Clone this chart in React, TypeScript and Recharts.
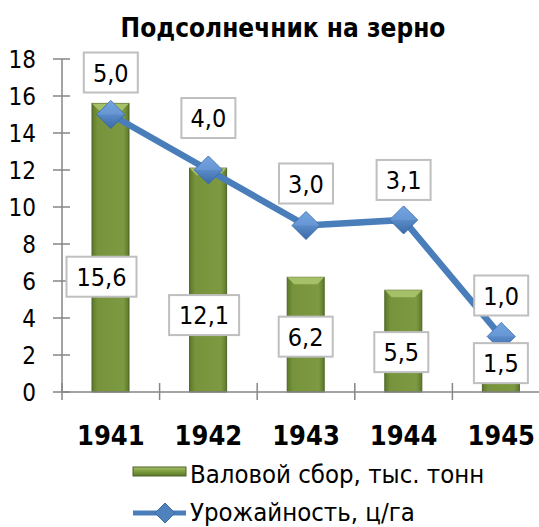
import React from "react";
import { ComposedChart, Bar, Line, XAxis, YAxis, LabelList } from "recharts";

const years = ["1941", "1942", "1943", "1944", "1945"];
const grossHarvest = [15.6, 12.1, 6.2, 5.5, 1.5];
const yieldPerHa = [5.0, 4.0, 3.0, 3.1, 1.0];
const yTicks = [0, 2, 4, 6, 8, 10, 12, 14, 16, 18];

// label placement tweaks (layout only, pixels)
const barLabelShiftY = [29, 35, 2, 11, -15];
const barLabelShiftX = [-9, -4, 0, -2, 0];
const lineLabelLift = [42, 52, 42, 40, 41];

const data = years.map((y, i) => ({ year: y, gross: grossHarvest[i], yld: yieldPerHa[i] }));

const FONT = "'DejaVu Sans Condensed', 'Liberation Sans', sans-serif";
const fmt = (v: number) => v.toFixed(1).replace(".", ",");

const LabelBox = ({ cx, cy, text }: { cx: number; cy: number; text: string }) => {
  const w = text.length > 3 ? 70 : 54;
  const h = 40;
  return (
    <g>
      <rect x={cx - w / 2} y={cy - h / 2} width={w} height={h} fill="#fff" stroke="#bfbfbf" strokeWidth={2} />
      <text x={cx} y={cy + 9} textAnchor="middle" fontFamily={FONT} fontSize={25} fill="#000">
        {text}
      </text>
    </g>
  );
};

const BarShape = (props: any) => {
  const { x, y, width, height } = props;
  if (!height || height <= 0) return null;
  const cap = Math.min(7, height / 2);
  return (
    <g>
      <rect x={x} y={y} width={width} height={height} fill="url(#barGrad)" stroke="#4f6228" strokeWidth={1} />
      <polygon
        points={`${x},${y} ${x + width},${y} ${x + width - cap},${y + cap} ${x + cap},${y + cap}`}
        fill="#a6c067"
      />
    </g>
  );
};

const Diamond = (props: any) => {
  const { cx, cy } = props;
  if (cx == null || cy == null) return null;
  const r = 14;
  return (
    <g>
      <polygon points={`${cx},${cy - r} ${cx + r},${cy} ${cx},${cy + r} ${cx - r},${cy}`} fill="url(#dGrad)" stroke="#3a6aa8" strokeWidth={1} />
      <polygon points={`${cx},${cy - r} ${cx + r},${cy} ${cx - r},${cy}`} fill="#6f9fdc" opacity={0.6} />
    </g>
  );
};

const YTick = (props: any) => {
  const { x, y, payload } = props;
  return (
    <g>
      <line x1={x - 9} x2={x + 8} y1={y} y2={y} stroke="#868686" strokeWidth={1.5} />
      <text x={x - 26} y={y + 9} textAnchor="end" fontFamily={FONT} fontSize={24} fill="#000">
        {payload.value}
      </text>
    </g>
  );
};

const XTick = (props: any) => {
  const { x, y, payload } = props;
  const off = payload.offset || 48.8;
  return (
    <g>
      <line x1={x - off} x2={x - off} y1={y - 9} y2={y + 8} stroke="#868686" strokeWidth={1.5} />
      <text x={x} y={y + 53} textAnchor="middle" fontFamily={FONT} fontSize={27} fontWeight="bold" fill="#000">
        {payload.value}
      </text>
    </g>
  );
};

const BarLabel = (props: any) => {
  const { x, y, width, height, value, index } = props;
  const cx = x + width / 2 + barLabelShiftX[index];
  const cy = y + height / 2 + barLabelShiftY[index];
  return <LabelBox cx={cx} cy={cy} text={fmt(value)} />;
};

const LineLabel = (props: any) => {
  const { x, y, value, index } = props;
  return <LabelBox cx={x} cy={y - lineLabelLift[index]} text={fmt(value)} />;
};

const LegendBlock = () => (
  <svg width={419} height={80} style={{ position: "absolute", left: 120, top: 447 }}>
    <defs>
      <linearGradient id="legBar" x1="0" y1="0" x2="0" y2="1">
        <stop offset="0" stopColor="#a6c067" />
        <stop offset="0.5" stopColor="#7c9a3e" />
        <stop offset="1" stopColor="#5a7a2a" />
      </linearGradient>
    </defs>
    <rect x={13} y={20} width={53} height={9} fill="url(#legBar)" stroke="#4f6228" strokeWidth={1} />
    <text x={70} y={36} fontFamily={FONT} fontSize={25.5} fill="#000">
      Валовой сбор, тыс. тонн
    </text>
    <line x1={13} x2={66} y1={66} y2={66} stroke="#4a7ebb" strokeWidth={5} />
    <polygon points="45,56 55,66 45,76 35,66" fill="#4f81bd" stroke="#3a6aa8" />
    <text x={70} y={74} fontFamily={FONT} fontSize={25.5} fill="#000">
      Урожайность, ц/га
    </text>
  </svg>
);

export default function App() {
  return (
    <div style={{ position: "fixed", left: 0, top: 0, width: 539, height: 527, overflow: "hidden", background: "#fff" }}>
      <svg width={539} height={50} style={{ position: "absolute", left: 0, top: 0 }}>
        <text x={283} y={37} textAnchor="middle" fontFamily={FONT} fontSize={26} fontWeight="bold" fill="#000">
          Подсолнечник на зерно
        </text>
      </svg>
      <div style={{ position: "absolute", left: 0, top: 0 }}>
        <ComposedChart width={560} height={527} data={data} margin={{ top: 59, right: 10, bottom: 95, left: 0 }}>
          <defs>
            <linearGradient id="barGrad" x1="0" y1="0" x2="1" y2="0">
              <stop offset="0" stopColor="#5a7a2a" />
              <stop offset="0.15" stopColor="#77933c" />
              <stop offset="0.85" stopColor="#7d9a42" />
              <stop offset="1" stopColor="#5a7a2a" />
            </linearGradient>
            <linearGradient id="dGrad" x1="0" y1="0" x2="0" y2="1">
              <stop offset="0" stopColor="#7aaae6" />
              <stop offset="1" stopColor="#3a6aa8" />
            </linearGradient>
          </defs>
          <XAxis
            dataKey="year"
            axisLine={{ stroke: "#868686", strokeWidth: 1.5 }}
            tickLine={false}
            tickSize={0}
            tickMargin={0}
            interval={0}
            height={40}
            tick={<XTick />}
          />
          <YAxis
            yAxisId="left"
            domain={[0, 18]}
            ticks={yTicks}
            width={62}
            axisLine={{ stroke: "#868686", strokeWidth: 1.5 }}
            tickLine={false}
            tickSize={0}
            tickMargin={0}
            interval={0}
            tick={<YTick />}
          />
          <YAxis yAxisId="right" orientation="right" domain={[0, 6]} hide />
          <Bar yAxisId="left" dataKey="gross" barSize={37} shape={<BarShape />} isAnimationActive={false}>
            <LabelList dataKey="gross" content={<BarLabel />} />
          </Bar>
          <Line
            yAxisId="right"
            dataKey="yld"
            stroke="#4a7ebb"
            strokeWidth={6.5}
            dot={<Diamond />}
            activeDot={false}
            isAnimationActive={false}
          >
            <LabelList dataKey="yld" content={<LineLabel />} />
          </Line>
        </ComposedChart>
      </div>
      <LegendBlock />
    </div>
  );
}
